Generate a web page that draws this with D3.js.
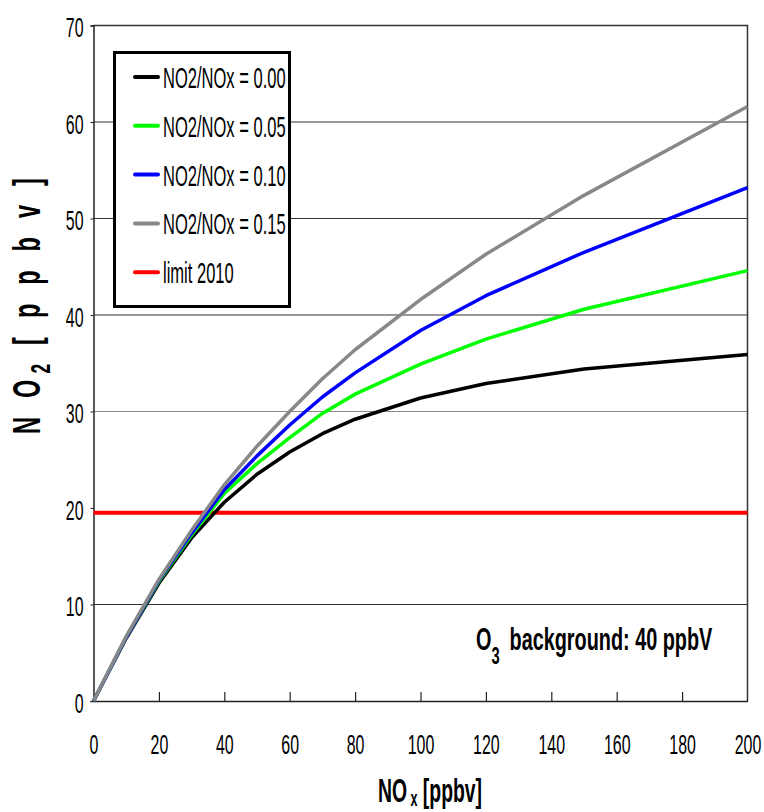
<!DOCTYPE html>
<html>
<head>
<script src="https://d3js.org/d3.v7.min.js"></script>
<style>
  body { margin: 0; background: #fff; }
  svg text { font-family: 'Liberation Sans', Arial, sans-serif; fill: #000; }
</style>
</head>
<body>
<div id="chart"></div>
<script>
// NOx values (ppbv)
const nox = [0, 10, 20, 30, 40, 50, 60, 70, 80, 100, 120, 150, 200];
// NO2 (ppbv) for each NO2/NOx emission ratio
const no2Ratio000 = [0, 6.5, 12.2, 16.9, 20.6, 23.5, 25.8, 27.7, 29.2, 31.4, 32.9, 34.4, 35.9];
const no2Ratio005 = [0, 6.6, 12.4, 17.2, 21.5, 24.6, 27.3, 29.8, 31.8, 34.9, 37.5, 40.6, 44.6];
const no2Ratio010 = [0, 6.6, 12.5, 17.4, 21.9, 25.4, 28.6, 31.5, 34.0, 38.4, 42.0, 46.5, 53.2];
const no2Ratio015 = [0, 6.7, 12.6, 17.7, 22.4, 26.4, 30.0, 33.4, 36.4, 41.6, 46.3, 52.4, 61.6];
const limit2010 = 19.5;

const seriesNames = ["NO2/NOx = 0.00", "NO2/NOx = 0.05", "NO2/NOx = 0.10", "NO2/NOx = 0.15", "limit 2010"];
const seriesColors = ["#000000", "#00ff00", "#0000ff", "#888888", "#ff0000"];
const xTicks = [0, 20, 40, 60, 80, 100, 120, 140, 160, 180, 200];
const yTicks = [0, 10, 20, 30, 40, 50, 60, 70];

const width = 764, height = 812;
const margin = { top: 25.5, right: 16.5, bottom: 111, left: 93.5 };
const sx = 0.57; // condensed look

const svg = d3.select("#chart").append("svg")
    .attr("width", width).attr("height", height);

const x = d3.scaleLinear().domain([0, 200]).range([margin.left, width - margin.right]);
const y = d3.scaleLinear().domain([0, 70]).range([height - margin.bottom, margin.top]);

// gridlines (the 20 line sits under the limit line)
svg.append("g")
    .selectAll("line")
    .data(yTicks.filter(d => d > 0 && d < 70 && d !== 20))
    .join("line")
    .attr("x1", x(0)).attr("x2", x(200))
    .attr("y1", d => y(d)).attr("y2", d => y(d))
    .attr("stroke", d => d === 30 ? "#888" : "#333")
    .attr("stroke-width", 1.2);

// frame (top and right)
svg.append("path")
    .attr("d", `M${x(0)},${y(70)}H${x(200)}V${y(0)}`)
    .attr("fill", "none").attr("stroke", "#333").attr("stroke-width", 1.5);

// x axis
const xAxis = svg.append("g")
    .attr("transform", `translate(0,${y(0)})`)
    .call(d3.axisBottom(x).tickValues(xTicks).tickSizeInner(-9).tickSizeOuter(0).tickPadding(53));
xAxis.select(".domain").attr("stroke", "#222").attr("stroke-width", 1.5);
xAxis.selectAll(".tick line").attr("stroke", "#222").attr("stroke-width", 1.2)
    .attr("display", d => (d === 0 || d === 200) ? "none" : null);
xAxis.selectAll(".tick text")
    .attr("font-size", 28).attr("font-family", "'Liberation Sans', Arial, sans-serif")
    .attr("dy", 0).attr("transform", `scale(${sx},1)`);

// y axis
const yAxis = svg.append("g")
    .attr("transform", `translate(${x(0)},0)`)
    .call(d3.axisLeft(y).tickValues(yTicks).tickSize(3).tickPadding(10));
yAxis.select(".domain").attr("stroke", "#222").attr("stroke-width", 1.5);
yAxis.selectAll(".tick line").attr("stroke", "#222");
yAxis.selectAll(".tick text")
    .attr("font-size", 28).attr("font-family", "'Liberation Sans', Arial, sans-serif")
    .attr("x", -10 / sx).attr("dy", 11)
    .attr("transform", `scale(${sx},1)`);

// curves
const allSeries = [no2Ratio000, no2Ratio005, no2Ratio010, no2Ratio015];
const line = d3.line().x((d, i) => x(nox[i])).y(d => y(d));

// limit line
svg.append("line")
    .attr("x1", x(0)).attr("x2", x(200))
    .attr("y1", y(limit2010)).attr("y2", y(limit2010))
    .attr("stroke", seriesColors[4]).attr("stroke-width", 4);

svg.append("g")
    .selectAll("path")
    .data(allSeries)
    .join("path")
    .attr("d", d => line(d))
    .attr("fill", "none")
    .attr("stroke", (d, i) => seriesColors[i])
    .attr("stroke-width", 3.5)
    .attr("stroke-linejoin", "round");

// legend
const legend = svg.append("g");
legend.append("rect")
    .attr("x", 114.5).attr("y", 52.5).attr("width", 175).attr("height", 254)
    .attr("fill", "#fff").attr("stroke", "#000").attr("stroke-width", 3);
const rows = legend.selectAll("g.row")
    .data(seriesNames)
    .join("g").attr("class", "row")
    .attr("transform", (d, i) => `translate(0,${77 + i * 48.8})`);
rows.append("line")
    .attr("x1", 135).attr("x2", 158)
    .attr("stroke", (d, i) => seriesColors[i]).attr("stroke-width", 4).attr("stroke-linecap", "round");
rows.append("text")
    .attr("transform", `translate(163,11) scale(${sx},1)`)
    .attr("font-size", 29)
    .text(d => d);

// annotation
const ann = svg.append("text")
    .attr("transform", `translate(476,650) scale(0.64,1)`)
    .attr("font-size", 31).attr("font-weight", "bold");
ann.append("tspan").text("O");
ann.append("tspan").attr("font-size", 23).attr("dy", 14).text("3");
ann.append("tspan").attr("dy", -14).text("\u2002background: 40 ppbV");

// x label
const xl = svg.append("text")
    .attr("transform", `translate(430,802) scale(${sx},1)`)
    .attr("text-anchor", "middle")
    .attr("font-size", 34).attr("font-weight", "bold");
xl.append("tspan").text("NO");
xl.append("tspan").attr("font-size", 22).attr("dy", 4).text(" x");
xl.append("tspan").attr("dy", -4).text(" [ppbv]");

// y label
const yl = svg.append("text")
    .attr("transform", `translate(40,303) rotate(-90) scale(0.62,1)`)
    .attr("text-anchor", "middle")
    .attr("font-size", 38).attr("font-weight", "bold")
    .attr("letter-spacing", 10);
yl.append("tspan").text("N O");
yl.append("tspan").attr("font-size", 28).attr("dy", 10).text("2");
yl.append("tspan").attr("dy", -10).text(" [ p p b v ]");
</script>
</body>
</html>
